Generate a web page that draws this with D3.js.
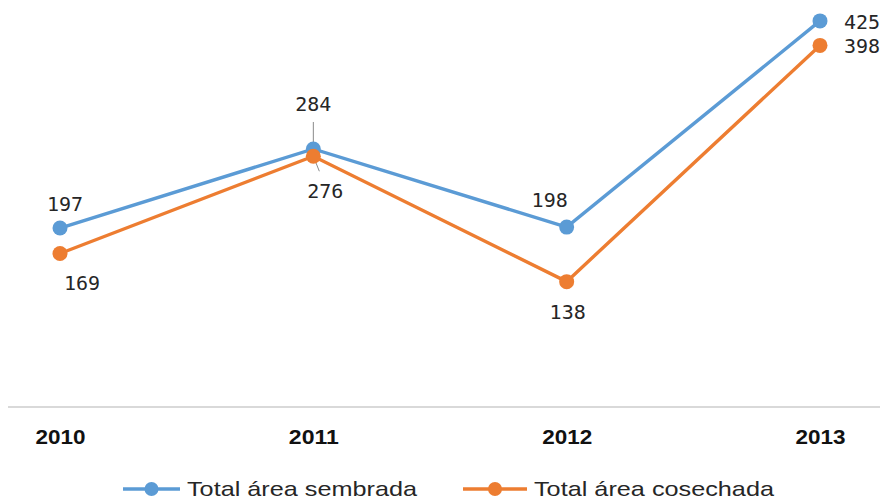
<!DOCTYPE html>
<html><head><meta charset="utf-8">
<script src="https://cdn.jsdelivr.net/npm/d3@7"></script>
<style>body{margin:0;background:#fff}svg{display:block}</style>
</head><body>
<svg id="c" width="890" height="500"></svg>
<script>
const years = ["2010","2011","2012","2013"];
const sembrada = [197,284,198,425];
const cosechada = [169,276,138,398];
const seriesNames = ["Total área sembrada","Total área  cosechada"];
const colors = ["#5b9bd5","#ed7d31"];
// label offsets [dx, dy] relative to point
const offS = [[5,-24],[0,-45],[-17,-27],[42,1]];
const offC = [[22,30],[12,35],[1,30],[42,1]];

const svg = d3.select("#c");
const x = d3.scalePoint().domain(years).range([60,820]);
const y = d3.scaleLinear().domain([0,448]).range([407,0]);

svg.append("line").attr("x1",8).attr("x2",880).attr("y1",y(0)).attr("y2",y(0))
  .attr("stroke","#d9d9d9").attr("stroke-width",2);

const xa = svg.append("g").attr("transform","translate(0,"+(y(0)+30)+")")
  .call(d3.axisBottom(x).tickSize(0).tickPadding(0));
xa.select(".domain").remove();
xa.selectAll("text").attr("font-family","Liberation Sans, Arial, sans-serif")
  .attr("font-weight","bold").attr("font-size",20).attr("fill","#111")
  .attr("textLength",50).attr("lengthAdjust","spacingAndGlyphs")
  .attr("dy","0.35em");

const data = [sembrada, cosechada];
const offs = [offS, offC];
const line = d3.line().x((d,i)=>x(years[i])).y(d=>y(d));

// leader lines for 2011 labels
svg.append("line").attr("x1",x("2011")).attr("x2",x("2011"))
  .attr("y1",y(sembrada[1])-27).attr("y2",y(sembrada[1])).attr("stroke","#8a8a8a").attr("stroke-width",1);
svg.append("line").attr("x1",x("2011")).attr("x2",x("2011")+6)
  .attr("y1",y(cosechada[1])).attr("y2",y(cosechada[1])+15).attr("stroke","#8a8a8a").attr("stroke-width",1);

data.forEach((s,k)=>{
  svg.append("path").datum(s).attr("d",line).attr("fill","none")
    .attr("stroke",colors[k]).attr("stroke-width",3.4);
});
data.forEach((s,k)=>{
  svg.selectAll(null).data(s).enter().append("circle")
    .attr("cx",(d,i)=>x(years[i])).attr("cy",d=>y(d)).attr("r",7.5).attr("fill",colors[k]);
  svg.selectAll(null).data(s).enter().append("text")
    .attr("x",(d,i)=>x(years[i])+offs[k][i][0]).attr("y",(d,i)=>y(d)+offs[k][i][1])
    .attr("text-anchor","middle").attr("dy","0.35em")
    .attr("font-family","DejaVu Sans Mono, monospace").attr("font-size",20).attr("fill","#262626")
    .text(d=>d);
});

// legend
const leg = [{x1:123,x2:180,tx:187,tw:230},{x1:463,x2:527,tx:534,tw:240}];
const ly = 489;
leg.forEach((L,k)=>{
  svg.append("line").attr("x1",L.x1).attr("x2",L.x2).attr("y1",ly).attr("y2",ly)
    .attr("stroke",colors[k]).attr("stroke-width",3.6);
  svg.append("circle").attr("cx",(L.x1+L.x2)/2).attr("cy",ly).attr("r",7).attr("fill",colors[k]);
  svg.append("text").attr("x",L.tx).attr("y",ly).attr("dy","0.35em")
    .attr("font-family","Liberation Sans Narrow, Liberation Sans, sans-serif").attr("font-size",21)
    .attr("fill","#262626").attr("textLength",L.tw).attr("lengthAdjust","spacingAndGlyphs")
    .text(seriesNames[k]);
});
</script>
</body></html>
